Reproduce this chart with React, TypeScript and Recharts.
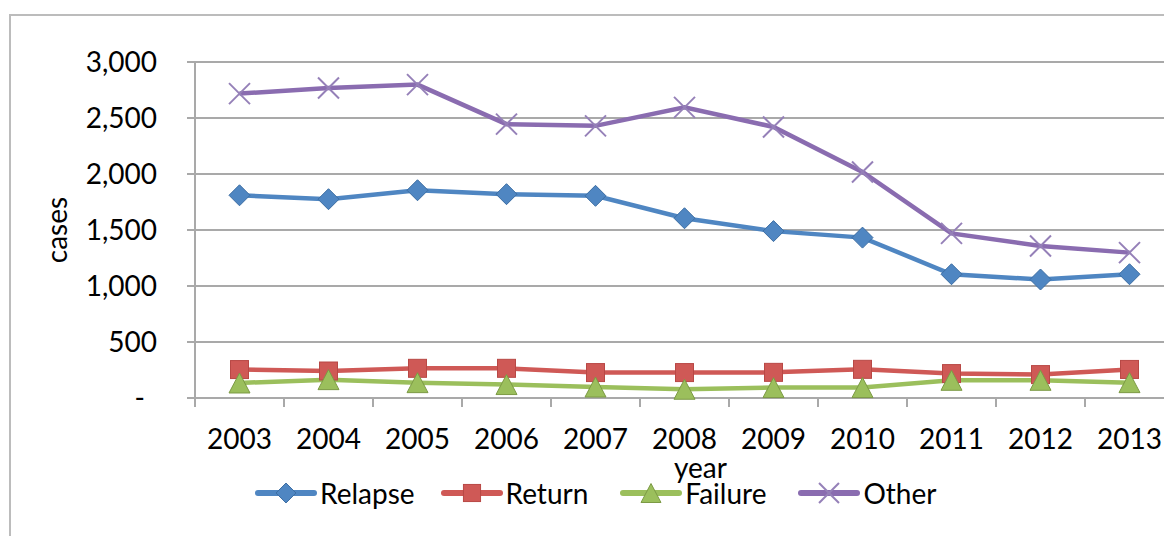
import React from "react";
import { LineChart, Line, XAxis, YAxis, CartesianGrid, Legend } from "recharts";

// Cases by treatment category, 2003–2013
const years = ["2003", "2004", "2005", "2006", "2007", "2008", "2009", "2010", "2011", "2012", "2013"];
const relapse = [1810, 1775, 1855, 1820, 1805, 1605, 1490, 1432, 1105, 1058, 1105];
const returnCases = [254, 241, 265, 265, 227, 227, 229, 256, 218, 209, 255];
const failure = [134, 164, 137, 120, 98, 78, 93, 93, 158, 158, 137];
const other = [2718, 2768, 2798, 2445, 2430, 2595, 2420, 2018, 1470, 1357, 1298];
const yTicks = [0, 500, 1000, 1500, 2000, 2500, 3000];

const data = years.map((year, i) => ({
  year,
  relapse: relapse[i],
  ret: returnCases[i],
  failure: failure[i],
  other: other[i],
}));

const FONT = "Lato, 'Open Sans', sans-serif";
const FS = 28;
const GRID = "#a9a9a9";
const BLUE = "#4f86c2";
const RED = "#cf5956";
const GREEN = "#9bbf5c";
const PURPLE = "#8a6cb0";

// plot spans x 195..1174 (right edge cropped by the window), 11 year bands
const PLOT_W = 979;
const HALF_BAND = PLOT_W / years.length / 2;

type Shape = "diamond" | "square" | "triangle" | "x";

function Marker({ shape, cx, cy, s = 1 }: { shape: Shape; cx: number; cy: number; s?: number }) {
  if (shape === "diamond") {
    const r = 10.5 * s;
    return <polygon points={`${cx},${cy - r} ${cx + r},${cy} ${cx},${cy + r} ${cx - r},${cy}`} fill={BLUE} stroke="#3d6ea3" strokeWidth={1} />;
  }
  if (shape === "square") {
    const r = 9 * s;
    return <rect x={cx - r} y={cy - r} width={2 * r} height={2 * r} fill={RED} stroke="#b84845" strokeWidth={1} />;
  }
  if (shape === "triangle") {
    const w = 10.5 * s, h = 10 * s;
    return <polygon points={`${cx},${cy - h} ${cx + w},${cy + h} ${cx - w},${cy + h}`} fill={GREEN} stroke="#7c9a45" strokeWidth={1} />;
  }
  const r = 10.5 * s;
  return (
    <g stroke="#9580b8" strokeWidth={2}>
      <line x1={cx - r} y1={cy - r} x2={cx + r} y2={cy + r} />
      <line x1={cx - r} y1={cy + r} x2={cx + r} y2={cy - r} />
    </g>
  );
}

const dotOf = (shape: Shape) => (p: any) => {
  if (p.cx == null || p.cy == null) return <g key={`${shape}-${p.index}`} />;
  return <g key={`${shape}-${p.index}`}><Marker shape={shape} cx={p.cx} cy={p.cy} /></g>;
};

const series: Array<{ key: string; name: string; color: string; shape: Shape }> = [
  { key: "relapse", name: "Relapse", color: BLUE, shape: "diamond" },
  { key: "ret", name: "Return", color: RED, shape: "square" },
  { key: "failure", name: "Failure", color: GREEN, shape: "triangle" },
  { key: "other", name: "Other", color: PURPLE, shape: "x" },
];

function YTick({ x, y, payload }: any) {
  const v = payload.value as number;
  const label = v === 0 ? "-" : v.toLocaleString("en-US");
  return (
    <text x={v === 0 ? x - 12 : x} y={y} dy="0.36em" textAnchor="end" fontSize={FS} fill="#000" fontFamily={FONT}>
      {label}
    </text>
  );
}

function XTick({ x, y, payload }: any) {
  return (
    <g>
      <line x1={x - HALF_BAND} y1={398} x2={x - HALF_BAND} y2={407} stroke={GRID} strokeWidth={2} />
      <text x={x} y={y} dy="0.71em" textAnchor="middle" fontSize={FS} fill="#000" fontFamily={FONT}>
        {payload.value}
      </text>
    </g>
  );
}

function LegendContent() {
  return (
    <div style={{ display: "flex", alignItems: "center", fontFamily: FONT, fontSize: FS, color: "#000" }}>
      {series.map((s, i) => (
        <div key={s.key} style={{ display: "flex", alignItems: "center", marginLeft: [0, 26, 32, 32][i] }}>
          <svg width={62} height={26}>
            <line x1={3} y1={13} x2={59} y2={13} stroke={s.color} strokeWidth={6} strokeLinecap="round" />
            <Marker shape={s.shape} cx={31} cy={13} s={0.95} />
          </svg>
          <span style={{ marginLeft: 3, lineHeight: "30px" }}>{s.name}</span>
        </div>
      ))}
    </div>
  );
}

export default function App() {
  return (
    <div style={{ position: "absolute", left: 0, top: 0, width: 1164, height: 536, overflow: "hidden", background: "#fff" }}>
      <div style={{ position: "absolute", left: 9, top: 14, width: 1200, height: 600, borderLeft: "2px solid #bcbcbc", borderTop: "2px solid #bcbcbc" }} />
      <LineChart width={1200} height={536} data={data} margin={{ top: 62, right: 26, left: 0, bottom: 0 }} style={{ position: "absolute", left: 0, top: 0 }}>
        <CartesianGrid horizontal vertical={false} stroke={GRID} strokeWidth={2} />
        <XAxis
          dataKey="year"
          scale="band"
          height={138}
          axisLine={{ stroke: GRID, strokeWidth: 2 }}
          tickLine={false}
          tickSize={9}
          tickMargin={22}
          tick={<XTick />}
          interval={0}
          label={{ value: "year", position: "center", dx: 16, dy: 1, fontSize: FS, fill: "#000", fontFamily: FONT }}
        />
        <YAxis
          width={195}
          domain={[0, 3000]}
          ticks={yTicks}
          interval={0}
          axisLine={{ stroke: GRID, strokeWidth: 2 }}
          tickLine={{ stroke: GRID, strokeWidth: 2 }}
          tickSize={8}
          tickMargin={30}
          tick={<YTick />}
          label={{ value: "cases", angle: -90, position: "center", dx: -40, fontSize: FS, fill: "#000", fontFamily: FONT }}
        />
        <Legend
          verticalAlign="middle"
          layout="horizontal"
          content={<LegendContent />}
          wrapperStyle={{ position: "absolute", left: 255, top: 478, width: "auto" }}
        />
        {series.map((s) => (
          <Line
            key={s.key}
            dataKey={s.key}
            name={s.name}
            stroke={s.color}
            strokeWidth={4.5}
            dot={dotOf(s.shape)}
            activeDot={false}
            isAnimationActive={false}
          />
        ))}
      </LineChart>
    </div>
  );
}
